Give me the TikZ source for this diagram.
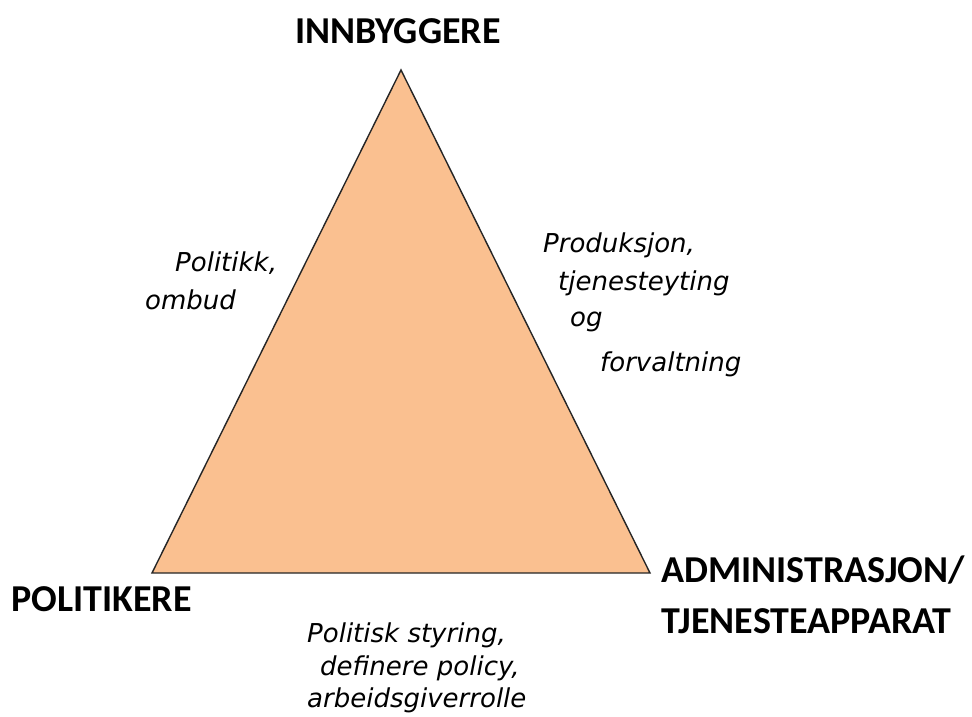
\documentclass[tikz,border=0pt]{standalone}
\usepackage{fontspec}
\setmainfont{Carlito}
\newfontfamily\hand{DejaVu Sans}
\definecolor{peach}{HTML}{FAC090}
\definecolor{edge}{HTML}{262626}
\tikzset{
  role/.style={font=\fontsize{38}{44}\selectfont\bfseries, text=black, inner sep=0pt},
  hw/.style={font=\hand\itshape\fontsize{26}{30}\selectfont, text=black, inner sep=0pt, anchor=west},
}
\begin{document}
\begin{tikzpicture}[x=1pt,y=-1pt]
\useasboundingbox (0,0) rectangle (972,717);
\coordinate (top) at (401,70);
\coordinate (bl) at (152,573);
\coordinate (br) at (650,573);
\filldraw[fill=peach, draw=edge, line width=1.4pt, line join=miter] (top) -- (bl) -- (br) -- cycle;

\node[role] (innb) at (398,31) {INNBYGGERE};
\node[role, anchor=west] (pol) at (11,599) {POLITIKERE};
\node[role, anchor=west] (adm1) at (661,570) {ADMINISTRASJON/};
\node[role, anchor=west] (adm2) at (661,621) {TJENESTEAPPARAT};

\node[hw] (l1) at (175,263) {Politikk,};
\node[hw] (l2) at (145,300) {ombud};

\node[hw] (r1) at (543,245) {Produksjon,};
\node[hw] (r2) at (558,283) {tjenesteyting};
\node[hw] (r3) at (570,322) {og};
\node[hw] (r4) at (600,364) {forvaltning};

\node[hw] (b1) at (307,635) {Politisk styring,};
\node[hw] (b2) at (320,668) {definere policy,};
\node[hw] (b3) at (307,700) {arbeidsgiverrolle};
\end{tikzpicture}
\end{document}
